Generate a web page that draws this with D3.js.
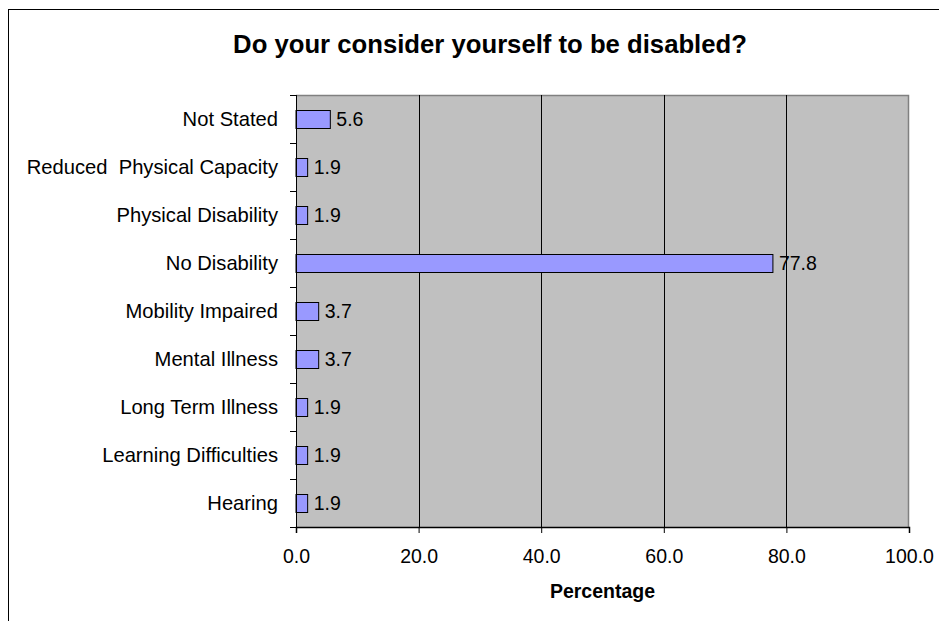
<!DOCTYPE html>
<html>
<head>
<meta charset="utf-8">
<script src="https://cdn.jsdelivr.net/npm/d3@7"></script>
<style>
  html, body { margin: 0; padding: 0; background: #fff; }
  svg { display: block; font-family: Arial, "Liberation Sans", sans-serif; }
</style>
</head>
<body>
<svg id="chart" width="939" height="621"></svg>
<script>
// Survey responses, listed top to bottom as shown
const categories = [
  "Not Stated",
  "Reduced  Physical Capacity",
  "Physical Disability",
  "No Disability",
  "Mobility Impaired",
  "Mental Illness",
  "Long Term Illness",
  "Learning Difficulties",
  "Hearing"
];
const percentages = [5.6, 1.9, 1.9, 77.8, 3.7, 3.7, 1.9, 1.9, 1.9];
const xTicks = [0, 20, 40, 60, 80, 100];

const titleText = "Do your consider yourself to be disabled?";
const xAxisTitle = "Percentage";

const svg = d3.select("#chart");
const W = 939, H = 621;
const plot = { left: 296, right: 909, top: 95, bottom: 527 };
const labelSize = 19.5;
const categorySize = 20.2;

// Outer chart frame (extends past the visible area on the right and bottom)
svg.append("rect")
  .attr("x", 8.5).attr("y", 9.5)
  .attr("width", W + 40).attr("height", H + 40)
  .attr("fill", "#fff").attr("stroke", "#000").attr("stroke-width", 1);

const x = d3.scaleLinear().domain([0, 100]).range([plot.left, plot.right]);
const yBand = d3.scaleBand().domain(categories).range([plot.top, plot.bottom]);
const rows = categories.map((c, i) => ({ c, v: percentages[i] }));

// Plot background with grey top/right border
svg.append("rect")
  .attr("x", plot.left).attr("y", plot.top)
  .attr("width", plot.right - plot.left).attr("height", plot.bottom - plot.top)
  .attr("fill", "#c0c0c0");
svg.append("path")
  .attr("d", `M${plot.left},${plot.top + 0.5}H${plot.right - 0.5}V${plot.bottom}`)
  .attr("fill", "none").attr("stroke", "#808080").attr("stroke-width", 1.5);

// Vertical gridlines
svg.append("g")
  .selectAll("line")
  .data(xTicks.filter(t => t > 0 && t < 100))
  .join("line")
  .attr("x1", d => Math.round(x(d)) + 0.5).attr("x2", d => Math.round(x(d)) + 0.5)
  .attr("y1", plot.top).attr("y2", plot.bottom)
  .attr("stroke", "#000").attr("stroke-width", 1);

// Bars
svg.append("g")
  .selectAll("rect")
  .data(rows)
  .join("rect")
  .attr("x", x(0))
  .attr("y", d => Math.round(yBand(d.c) + yBand.bandwidth() / 2 - 9) + 0.5)
  .attr("width", d => x(d.v) - x(0))
  .attr("height", 18)
  .attr("fill", "#9999ff")
  .attr("stroke", "#000")
  .attr("stroke-width", 1);

// Value labels
svg.append("g")
  .selectAll("text")
  .data(rows)
  .join("text")
  .attr("x", d => x(d.v) + 6)
  .attr("y", d => yBand(d.c) + yBand.bandwidth() / 2)
  .attr("dy", "0.36em")
  .attr("font-size", labelSize)
  .attr("fill", "#000")
  .text(d => d.v.toFixed(1));

// Y axis: category labels with outward ticks at band boundaries
const yAxis = svg.append("g");
yAxis.append("line")
  .attr("x1", plot.left + 0.5).attr("x2", plot.left + 0.5)
  .attr("y1", plot.top).attr("y2", plot.bottom)
  .attr("stroke", "#000");
yAxis.selectAll("line.tick")
  .data(d3.range(categories.length + 1))
  .join("line")
  .attr("class", "tick")
  .attr("x1", plot.left - 6).attr("x2", plot.left)
  .attr("y1", i => Math.round(plot.top + i * yBand.step()) + 0.5)
  .attr("y2", i => Math.round(plot.top + i * yBand.step()) + 0.5)
  .attr("stroke", "#000");
yAxis.selectAll("text")
  .data(categories)
  .join("text")
  .attr("x", plot.left - 18)
  .attr("y", d => yBand(d) + yBand.bandwidth() / 2)
  .attr("dy", "0.36em")
  .attr("text-anchor", "end")
  .attr("font-size", categorySize)
  .attr("fill", "#000")
  .style("white-space", "pre")
  .text(d => d);

// X axis
const xAxis = svg.append("g")
  .attr("transform", `translate(0,${plot.bottom})`)
  .call(d3.axisBottom(x).tickValues(xTicks).tickFormat(d3.format(".1f")).tickSize(6).tickPadding(16));
xAxis.select(".domain").attr("stroke", "#000").attr("stroke-width", 1.5);
xAxis.selectAll(".tick line").attr("stroke", "#000");
xAxis.selectAll("text")
  .attr("font-size", labelSize)
  .attr("font-family", "Arial, 'Liberation Sans', sans-serif")
  .attr("fill", "#000");

// Axis title
svg.append("text")
  .attr("x", (plot.left + plot.right) / 2)
  .attr("y", 598)
  .attr("text-anchor", "middle")
  .attr("font-size", 19.5)
  .attr("font-weight", "bold")
  .text(xAxisTitle);

// Chart title
svg.append("text")
  .attr("x", 490)
  .attr("y", 53)
  .attr("text-anchor", "middle")
  .attr("font-size", 25.7)
  .attr("font-weight", "bold")
  .text(titleText);
</script>
</body>
</html>
